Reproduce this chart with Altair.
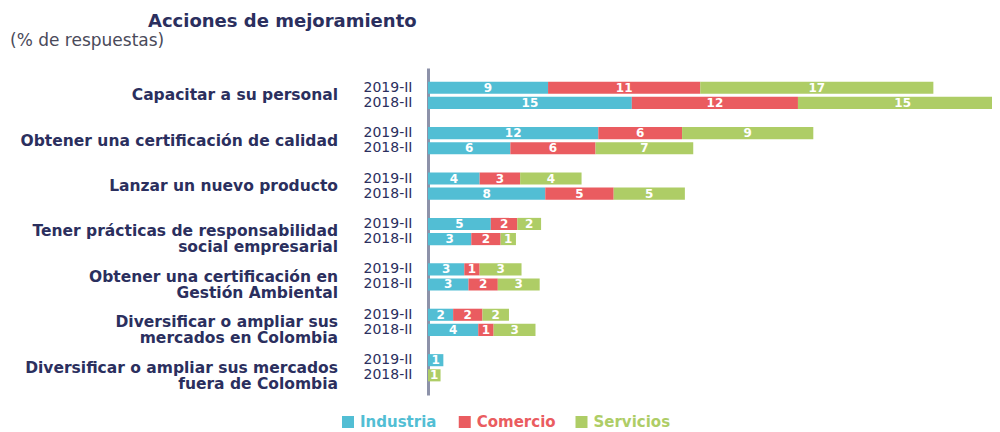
import altair as alt
import pandas as pd

title_text = "Acciones de mejoramiento"
subtitle_text = "(% de respuestas)"

categories = [
    "Capacitar a su personal",
    "Obtener una certificación de calidad",
    "Lanzar un nuevo producto",
    "Tener prácticas de responsabilidad\nsocial empresarial",
    "Obtener una certificación en\nGestión Ambiental",
    "Diversificar o ampliar sus\nmercados en Colombia",
    "Diversificar o ampliar sus mercados\nfuera de Colombia",
]
periods = ["2019-II", "2018-II"]
series = ["Industria", "Comercio", "Servicios"]
colors = ["#52bed4", "#ea5c60", "#aecd66"]

# bar lengths, per category: [2019-II, 2018-II]
industria = [[8.6, 14.6], [12.2, 5.9], [3.7, 8.4], [4.5, 3.1], [2.6, 2.9], [1.8, 3.6], [1.1, 0.0]]
comercio = [[10.9, 11.9], [6.0, 6.1], [2.9, 4.9], [1.9, 2.1], [1.1, 2.1], [2.1, 1.1], [0.0, 0.0]]
servicios = [[16.7, 15.0], [9.4, 7.0], [4.4, 5.1], [1.7, 1.1], [3.0, 3.0], [1.9, 3.0], [0.0, 0.9]]

# printed labels
industria_lbl = [[9, 15], [12, 6], [4, 8], [5, 3], [3, 3], [2, 4], [1, 0]]
comercio_lbl = [[11, 12], [6, 6], [3, 5], [2, 2], [1, 2], [2, 1], [0, 0]]
servicios_lbl = [[17, 15], [9, 7], [4, 5], [2, 1], [3, 3], [2, 3], [0, 1]]

navy = "#2b2f5e"

# row keys (with spacer rows between groups)
rows = []
for i in range(len(categories)):
    for p in periods:
        rows.append(f"g{i}|{p}")
    if i < len(categories) - 1:
        rows.append(f"gap{i}")

recs = []
for i in range(len(categories)):
    for j, p in enumerate(periods):
        for k, (vals, lbls) in enumerate(
            [(industria, industria_lbl), (comercio, comercio_lbl), (servicios, servicios_lbl)]
        ):
            v = vals[i][j]
            if v > 0:
                recs.append({"row": f"g{i}|{p}", "serie": series[k], "order": k,
                             "value": v, "label": str(lbls[i][j])})
df = pd.DataFrame(recs)

cat_df = pd.DataFrame({"row": [f"g{i}|{periods[0]}" for i in range(len(categories))],
                       "label": categories})
leg_df = pd.DataFrame({"serie": series})

xscale = alt.Scale(domain=[0, 40.4], nice=False, zero=True)
yscale = alt.Scale(domain=rows, paddingInner=0.2, paddingOuter=0.9)
cscale = alt.Scale(domain=series, range=colors)

yaxis = alt.Axis(title=None, ticks=False, domainColor="#8d92a9", domainWidth=3,
                 labelExpr="indexof(datum.value, '|') > 0 ? split(datum.value, '|')[1] : ''",
                 labelFont="DejaVu Sans", labelFontSize=14, labelColor=navy,
                 labelPadding=16)

base = alt.Chart(df).transform_stack(
    stack="value", as_=["x0", "x1"], groupby=["row"],
    sort=[alt.SortField("order", order="ascending")]
).transform_calculate(mid="(datum.x0 + datum.x1) / 2")

bars = base.mark_bar(clip=True).encode(
    x=alt.X("x0:Q", scale=xscale, axis=None),
    x2="x1:Q",
    y=alt.Y("row:N", scale=yscale, axis=yaxis),
    color=alt.Color("serie:N", scale=cscale, legend=None),
)

bar_labels = base.mark_text(color="white", font="DejaVu Sans", fontWeight="bold",
                            fontSize=12, baseline="middle").encode(
    x=alt.X("mid:Q", scale=xscale, axis=None),
    y=alt.Y("row:N", scale=yscale, axis=yaxis),
    text="label:N",
)

cat_text = alt.Chart(cat_df).mark_text(
    align="right", baseline="middle", dy=7.5, lineBreak="\n", lineHeight=16,
    font="DejaVu Sans", fontSize=15.5, fontWeight="bold", color=navy
).encode(
    x=alt.value(-90),
    y=alt.Y("row:N", scale=yscale, axis=yaxis),
    text="label:N",
)

lscale = alt.Scale(type="point", domain=series, range=[-80, 153.5], padding=0)
leg_sq = alt.Chart(leg_df).mark_square(size=144, opacity=1).encode(
    x=alt.X("serie:N", scale=lscale, axis=None),
    y=alt.value(354),
    color=alt.Color("serie:N", scale=cscale, legend=None),
)
leg_txt = alt.Chart(leg_df).mark_text(
    align="left", baseline="middle", dx=12, font="DejaVu Sans", fontSize=15,
    fontWeight="bold"
).encode(
    x=alt.X("serie:N", scale=lscale, axis=None),
    y=alt.value(354),
    text="serie:N",
    color=alt.Color("serie:N", scale=cscale, legend=None),
)

title = alt.Chart(pd.DataFrame({"t": [title_text]})).mark_text(
    align="left", baseline="middle", font="DejaVu Sans", fontSize=18,
    fontWeight="bold", color=navy
).encode(x=alt.value(-280), y=alt.value(-46), text="t:N")

subtitle = alt.Chart(pd.DataFrame({"t": [subtitle_text]})).mark_text(
    align="left", baseline="middle", font="DejaVu Sans", fontSize=17,
    color="#4a4a5a"
).encode(x=alt.value(-418), y=alt.value(-27), text="t:N")

main = alt.layer(bars, bar_labels, cat_text)
legend = alt.layer(leg_sq, leg_txt)

chart = alt.layer(main, legend, title, subtitle).resolve_scale(
    x="independent"
).properties(
    width=564, height=327,
    autosize=alt.AutoSizeParams(type="none"),
    padding={"left": 420, "top": 60, "right": 0, "bottom": 35},
).configure_view(stroke=None)

chart.save("out.html", embed_options={"renderer": "svg", "actions": False})
